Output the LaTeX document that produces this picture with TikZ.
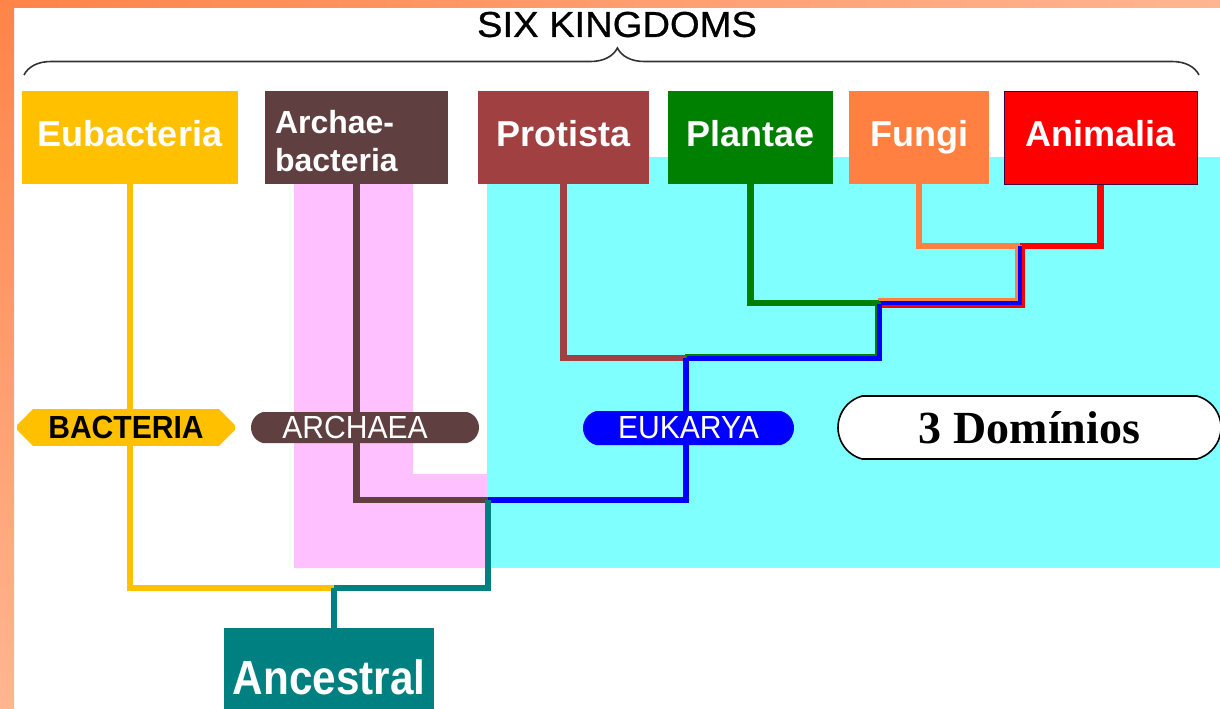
\documentclass[tikz,border=0pt]{standalone}
\usepackage{fontspec}
\setmainfont{Liberation Sans}
\newfontfamily\narrowfont[FakeStretch=0.88]{Liberation Sans}
\newfontfamily\labelfont[FakeStretch=0.94]{Liberation Sans}
\newfontfamily\titlefont[FakeStretch=1.06,FakeBold=0.8]{Liberation Sans}
\newfontfamily\serifbold{Liberation Serif}
\usetikzlibrary{shapes.misc,decorations.pathreplacing}
\definecolor{eubac}{HTML}{FFC000}
\definecolor{archae}{HTML}{603F40}
\definecolor{protist}{HTML}{A04040}
\definecolor{plant}{HTML}{008000}
\definecolor{fungus}{HTML}{FF8040}
\definecolor{animal}{HTML}{FF0000}
\definecolor{eukblue}{HTML}{0000FF}
\definecolor{ancteal}{HTML}{008080}
\definecolor{eukcyan}{HTML}{80FFFF}
\definecolor{archpink}{HTML}{FFC0FF}
\definecolor{frameA}{HTML}{FF8448}
\definecolor{frameB}{HTML}{FFB592}

\begin{document}
\begin{tikzpicture}[x=0.5pt, y=-0.5pt,
  kingdom/.style={inner sep=0pt, minimum height=46.5pt, text=white, font=\fontsize{18}{18}\selectfont\bfseries, text height=13.5pt, text depth=4.5pt},
  domainlabel/.style={inner sep=0pt, minimum height=15.5pt, font=\labelfont\fontsize{16}{16}\selectfont},
  pill/.style={domainlabel, rounded rectangle, rounded rectangle arc length=150},
  lineage/.style={line width=3.25pt}
]
\useasboundingbox (0,0) rectangle (1220,708);
\fill[white] (0,0) rectangle (1220,708);
\shade[left color=frameA, right color=frameB] (0,0) rectangle (1220,7);
\shade[top color=frameA, bottom color=frameB] (0,0) rectangle (14,708);

\fill[eukcyan] (487,157) rectangle (1220,568);
\fill[archpink] (294,157) -- (413,157) -- (413,474) -- (487,474) -- (487,568) -- (294,568) -- cycle;

\node[font=\titlefont\fontsize{18}{18}\selectfont] (title) at (617,24.5) {SIX KINGDOMS};
\draw[decorate, decoration={brace, amplitude=13.5pt, aspect=0.505}, line width=0.8pt, black!80] (24,75) -- (1199,75);

\node[kingdom, fill=eubac, minimum width=108pt] (eubac) at (130,137.5) {Eubacteria};
\node[kingdom, fill=archae, text width=81.5pt, inner xsep=5pt, align=left, text height=14.5pt, text depth=19pt, font=\fontsize{16}{19}\selectfont\bfseries] (archaeb) at (356.5,137.5) {Archae-\\bacteria};
\node[kingdom, fill=protist, minimum width=85.5pt] (protista) at (563.5,137.5) {Protista};
\node[kingdom, fill=plant, minimum width=82.5pt] (plantae) at (750.5,137.5) {Plantae};
\node[kingdom, fill=fungus, minimum width=70pt] (fungi) at (919,137.5) {Fungi};
\node[kingdom, fill=animal, draw=violet!50!black, line width=0.5pt, minimum width=96.5pt] (animalia) at (1100.5,137.5) {Animalia};

\node[inner sep=0pt, fill=ancteal, text=white, minimum width=105pt, minimum height=49pt, font=\narrowfont\fontsize{24}{24}\selectfont\bfseries] (ancestral) at (329,677) {Ancestral};

\coordinate (fa) at (1020,246);
\coordinate (pfa) at (879,303);
\coordinate (euk) at (686,358);
\coordinate (ae) at (488,500);
\coordinate (root) at (334,588);

\draw[lineage, fungus] (fungi.south) |- (fa);
\draw[lineage, animal] (animalia.south) |- (fa);
\draw[lineage, fungus, transform canvas={xshift=-0.75pt, yshift=0.75pt}] (fa) |- (pfa);
\draw[lineage, animal, transform canvas={xshift=0.75pt, yshift=-0.75pt}] (fa) |- (pfa);
\draw[lineage, eukblue, line width=1.75pt] (fa) |- (pfa);
\draw[lineage, plant] (plantae.south) |- (pfa);
\draw[lineage, plant, transform canvas={xshift=-0.5pt, yshift=0.5pt}] (pfa) |- (euk);
\draw[lineage, eukblue, line width=2.5pt, transform canvas={xshift=0.4pt, yshift=-0.4pt}] (pfa) |- (euk);
\draw[lineage, protist] (protista.south) |- (euk);
\draw[lineage, eukblue] (euk) |- (ae);
\draw[lineage, archae] (archaeb.south) |- (ae);
\draw[lineage, ancteal] (ae) |- (root);
\draw[lineage, eubac] (eubac.south) |- (root);
\draw[lineage, ancteal] (root) -- (root |- ancestral.north);

\node[domainlabel, chamfered rectangle, chamfered rectangle xsep=4.5pt, fill=eubac, font=\labelfont\fontsize{16}{16}\selectfont\bfseries, minimum width=109pt] (bacteria) at (126,427.5) {BACTERIA};
\node[pill, fill=archae, text=white, minimum width=114pt] (archaea) at (365,427.5) {ARCHAEA\hspace*{10pt}};
\node[pill, fill=eukblue, text=white, minimum width=105.5pt, minimum height=17pt] (eukarya) at (688.5,428) {EUKARYA};
\node[pill, fill=white, draw=black, line width=0.8pt, minimum width=191.5pt, minimum height=31.5pt, font=\serifbold\bfseries\fontsize{23}{23}\selectfont] (domains) at (1029.5,427.5) {3 Domínios};
\end{tikzpicture}
\end{document}
